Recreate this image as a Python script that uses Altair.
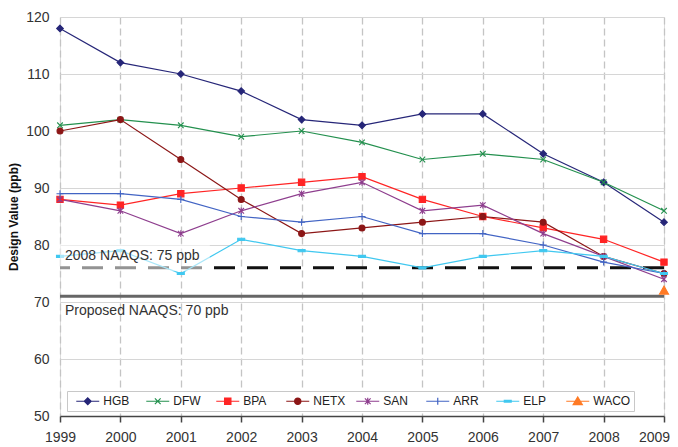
import altair as alt
import pandas as pd

years = [1999, 2000, 2001, 2002, 2003, 2004, 2005, 2006, 2007, 2008, 2009]
regions = ["HGB", "DFW", "BPA", "NETX", "SAN", "ARR", "ELP", "WACO"]
HGB = [118, 112, 110, 107, 102, 101, 103, 103, 96, 91, 84]
DFW = [101, 102, 101, 99, 100, 98, 95, 96, 95, 91, 86]
BPA = [88, 87, 89, 90, 91, 92, 88, 85, 83, 81, 77]
NETX = [100, 102, 95, 88, 82, 83, 84, 85, 84, 78, 75]
SAN = [88, 86, 82, 86, 89, 91, 86, 87, 82, 78, 74]
ARR = [89, 89, 88, 85, 84, 85, 82, 82, 80, 77, 75]
ELP = [78, 79, 75, 81, 79, 78, 76, 78, 79, 78, 75]
WACO = [None, None, None, None, None, None, None, None, None, None, 72]
colors = ["#262678", "#23904E", "#FF2424", "#8C1616", "#8E3E8E", "#4264C4", "#40C8F0", "#FF7A24"]

y_ticks = [50, 60, 70, 80, 90, 100, 110, 120]
ref_dash_level = [76]
ref_solid_level = [71]
ref_labels = ["2008 NAAQS: 75 ppb", "Proposed NAAQS: 70 ppb"]
ref_label_y = [78.1, 68.5]
ref_label_x = [1999, 1999]
# translucent backdrop behind the upper annotation (data-space extent)
label_box_x = [1999, 2001.48]
label_box_y = [75.4, 80.2]

# marker glyphs (symbol paths) for the plotted points
point_paths = [
    "M0,-0.95L0.95,0L0,0.95L-0.95,0Z",
    "M-0.8,-0.8L0.8,0.8M-0.8,0.8L0.8,-0.8",
    "M-0.9,-0.9H0.9V0.9H-0.9Z",
    "M-0.85,0A0.85,0.85,0,1,0,0.85,0A0.85,0.85,0,1,0,-0.85,0Z",
    "M-0.8,-0.8L0.8,0.8M-0.8,0.8L0.8,-0.8M0,-0.95V0.95",
    "M0,-1V1M-1,0H1",
    "M-1,-0.3H1V0.3H-1Z",
    "M0,-1.3L1.3,1H-1.3Z",
]
# legend glyphs: line segment plus marker
seg = "M-2,0H2"
legend_paths = [
    seg + "M0,-0.6L0.6,0L0,0.6L-0.6,0Z",
    seg + "M-0.5,-0.5L0.5,0.5M-0.5,0.5L0.5,-0.5",
    seg + "M-0.55,-0.55H0.55V0.55H-0.55Z",
    seg + "M-0.55,0A0.55,0.55,0,1,0,0.55,0A0.55,0.55,0,1,0,-0.55,0Z",
    seg + "M-0.5,-0.5L0.5,0.5M-0.5,0.5L0.5,-0.5M0,-0.6V0.6",
    seg + "M0,-0.6V0.6M-0.6,0H0.6",
    seg + "M-0.6,-0.15H0.6V0.15H-0.6Z",
    seg + "M0,-0.75L0.8,0.6H-0.8Z",
]

rows = []
for name, vals in zip(regions, [HGB, DFW, BPA, NETX, SAN, ARR, ELP, WACO]):
    for yr, v in zip(years, vals):
        if v is not None:
            rows.append({"region": name, "mk": name, "year": yr, "value": v})
df = pd.DataFrame(rows)

dash_df = pd.DataFrame({"value": ref_dash_level})
solid_df = pd.DataFrame({"value": ref_solid_level})
text_df = pd.DataFrame({"year": ref_label_x, "value": ref_label_y, "label": ref_labels})
box_df = pd.DataFrame({"year": [label_box_x[0]], "year2": [label_box_x[1]],
                       "value": [label_box_y[0]], "value2": [label_box_y[1]]})

FONT = "Liberation Sans"

x_enc = alt.X(
    "year:Q",
    scale=alt.Scale(domain=[1999, 2009], nice=False, zero=False),
    axis=alt.Axis(
        values=years, format="d", title=None, grid=True,
        gridDash=[7, 4], gridColor="#c4c4c4", gridWidth=1.3,
        tickColor="#444", tickSize=6, tickWidth=1.5,
        domainColor="#444", domainWidth=1.5,
        labelFontSize=14, labelPadding=8, labelColor="#333", labelFlush=False,
        labelOffset={"expr": "datum.value == 2009 ? -10 : 0"},
    ),
)
y_enc = alt.Y(
    "value:Q",
    scale=alt.Scale(domain=[50, 120], nice=False, zero=False),
    axis=alt.Axis(
        values=y_ticks, title="Design Value (ppb)", grid=True,
        gridColor="#d6d6d6", gridWidth=1.2, domain=False, ticks=False, tickSize=0,
        labelFontSize=14, labelPadding=11, labelColor="#333",
        titleFontSize=12, titleFontWeight="bold", titleColor="#111", titlePadding=5,
    ),
)

cscale = alt.Scale(domain=regions, range=colors)

rule_dash = alt.Chart(dash_df).mark_rule(color="#111", strokeWidth=3, strokeDash=[21, 12]).encode(y=y_enc)
rule_solid = alt.Chart(solid_df).mark_rule(color="#666", strokeWidth=3).encode(y=y_enc)

lines = alt.Chart(df).mark_line(strokeWidth=1.2).encode(
    x=x_enc, y=y_enc,
    color=alt.Color("region:N", scale=cscale, legend=None),
)

points = alt.Chart(df).mark_point(filled=True, size=49, strokeWidth=1.1, opacity=1).encode(
    x=x_enc, y=y_enc,
    color=alt.Color("region:N", scale=cscale, legend=None),
    stroke=alt.Stroke("region:N", scale=cscale, legend=None),
    shape=alt.Shape("mk:N", scale=alt.Scale(domain=regions, range=point_paths), legend=None),
)

box = alt.Chart(box_df).mark_rect(color="white", opacity=0.55).encode(
    x=x_enc, x2="year2:Q", y=y_enc, y2="value2:Q"
)

texts = alt.Chart(text_df).mark_text(align="left", baseline="middle", dx=5, fontSize=14, color="#333").encode(
    x=x_enc, y=y_enc, text="label:N"
)

leg = alt.Legend(
    title=None, orient="none", legendX=7, legendY=374, direction="horizontal",
    columns=8, gridAlign="all", symbolSize=132, symbolStrokeWidth=1.2,
    symbolOffset=10.75, labelOffset=9, columnPadding=0, padding=3.5,
    fillColor="white", strokeColor="#c8c8c8", labelFontSize=12, labelColor="#222",
    symbolOpacity=1, values=regions,
)

legend_layer = alt.Chart(df).mark_point(filled=True, opacity=0).encode(
    x=x_enc, y=y_enc,
    color=alt.Color("region:N", scale=cscale, legend=leg),
    stroke=alt.Stroke("region:N", scale=cscale, legend=leg),
    shape=alt.Shape("region:N", scale=alt.Scale(domain=regions, range=legend_paths), legend=leg),
)

chart = alt.layer(rule_dash, rule_solid, lines, points, box, texts, legend_layer).resolve_scale(
    color="independent", stroke="independent", shape="independent"
).properties(
    width=604, height=399,
    autosize=alt.AutoSizeParams(type="none"),
    padding={"left": 52, "top": 9, "right": 6, "bottom": 31},
).configure_view(stroke=None).configure(font=FONT)

chart.save("out.html", embed_options={"renderer": "svg", "actions": False})
